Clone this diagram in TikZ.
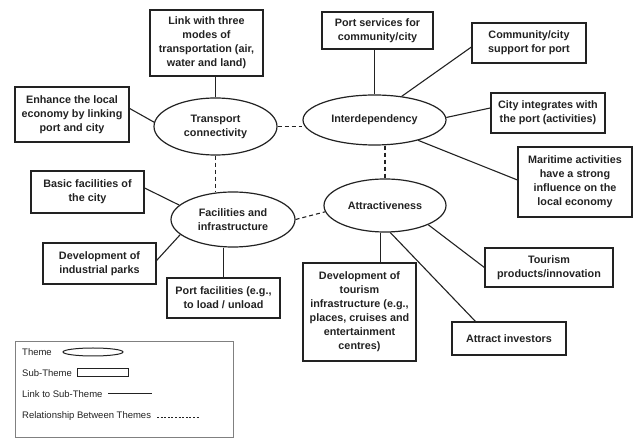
\documentclass[tikz,border=0pt]{standalone}
\usepackage{fontspec}
\setmainfont{Liberation Sans}
\usetikzlibrary{shapes.geometric}
\definecolor{ink}{HTML}{222222}
\tikzset{
  subtheme/.style={draw=ink, line width=1.2pt, rectangle, align=center, inner sep=2pt, text=ink, font=\bfseries\fontsize{10.8}{14}\selectfont},
  theme/.style={draw=ink, line width=1.2pt, ellipse, align=center, inner sep=0pt, text=ink, font=\bfseries\fontsize{10.8}{14}\selectfont},
  sublink/.style={draw=ink, line width=1.1pt},
  relation/.style={draw=ink, line width=1.1pt, dash pattern=on 4pt off 3pt},
  legendtext/.style={anchor=west, inner sep=0pt, text=ink, font=\fontsize{9.5}{11}\selectfont},
}
\begin{document}
\begin{tikzpicture}[x=1pt, y=-1pt]
\useasboundingbox (0,0) rectangle (633,438);
% themes
\node[theme, minimum width=123pt, minimum height=57pt] (transport) at (215.5,126.5) {Transport\\connectivity};
\node[theme, minimum width=143pt, minimum height=50pt] (interdep) at (374.5,120) {Interdependency};
\node[theme, minimum width=124pt, minimum height=55pt] (facilities) at (233,219.5) {Facilities and\\infrastructure};
\node[theme, minimum width=122pt, minimum height=53pt] (attract) at (385,205.5) {Attractiveness};
% sub-themes
\node[subtheme, minimum width=113pt, minimum height=66pt] (linkmodes) at (206.5,43) {Link with three\\modes of\\transportation (air,\\water and land)};
\node[subtheme, minimum width=114pt, minimum height=55pt] (enhance) at (72,114.5) {Enhance the local\\economy by linking\\port and city};
\node[subtheme, minimum width=113pt, minimum height=42pt] (basic) at (87.5,192) {Basic facilities of\\the city};
\node[subtheme, minimum width=113pt, minimum height=41pt] (industrial) at (99.5,263.5) {Development of\\industrial parks};
\node[subtheme, minimum width=113pt, minimum height=40pt] (portfac) at (223.5,298) {Port facilities (e.g.,\\to load / unload};
\node[subtheme, minimum width=111pt, minimum height=37pt] (portserv) at (377.5,30.5) {Port services for\\community/city};
\node[subtheme, minimum width=114pt, minimum height=40pt] (support) at (529,43) {Community/city\\support for port};
\node[subtheme, minimum width=114pt, minimum height=40pt] (integrates) at (548,113) {City integrates with\\the port (activities)};
\node[subtheme, minimum width=114pt, minimum height=70pt] (maritime) at (575,182) {Maritime activities\\have a strong\\influence on the\\local economy};
\node[subtheme, minimum width=113pt, minimum height=98pt] (tourinfra) at (359.5,312) {Development of\\tourism\\infrastructure (e.g.,\\places, cruises and\\entertainment\\centres)};
\node[subtheme, minimum width=114pt, minimum height=33pt] (investors) at (509,338.5) {Attract investors};
\node[subtheme, minimum width=128pt, minimum height=39pt] (tourprod) at (549,267.5) {Tourism\\products/innovation};
% links to sub-themes
\draw[sublink] (transport.north) -- (transport.north |- linkmodes.south);
\draw[sublink] (enhance.6) -- (transport.176);
\draw[sublink] (basic.4) -- (facilities.165);
\draw[sublink] (industrial.3) -- (facilities.196);
\draw[sublink] (portfac.north) -- (portfac.north |- facilities.south);
\draw[sublink] (interdep.north |- portserv.south) -- (interdep.north);
\draw[sublink] (support.184) -- (interdep.41);
\draw[sublink] (integrates.175) -- (interdep.2);
\draw[sublink] (maritime.178) -- (interdep.-25);
\draw[sublink] (attract.260) -- (attract.260 |- tourinfra.north);
\draw[sublink] (attract.281) -- (investors.153);
\draw[sublink] (attract.-24) -- (tourprod.west);
% relationships between themes
\draw[relation] (transport.east) -- (transport.east -| interdep.west);
\draw[relation] (transport.south) -- (transport.south |- facilities.north);
\draw[relation] (facilities.east) -- (attract.186);
\draw[relation] (attract.north |- interdep.south) -- (attract.north);
% legend
\draw[gray, line width=0.6pt] (15,341) rectangle (233,437);
\node[legendtext] (lgtheme) at (22,352) {Theme};
\draw[ink, line width=1pt] (93,352) ellipse [x radius=30, y radius=4];
\node[legendtext] (lgsub) at (22,373) {Sub-Theme};
\draw[ink, line width=1pt] (77,369) rectangle (128,377);
\node[legendtext] (lglink) at (22,394) {Link to Sub-Theme};
\draw[ink, line width=1pt] (108,394) -- (152,394);
\node[legendtext] (lgrel) at (22,416) {Relationship Between Themes};
\draw[ink, line width=0.6pt, dash pattern=on 2pt off 1.6pt] (157,417) -- (199,417);
\end{tikzpicture}
\end{document}
